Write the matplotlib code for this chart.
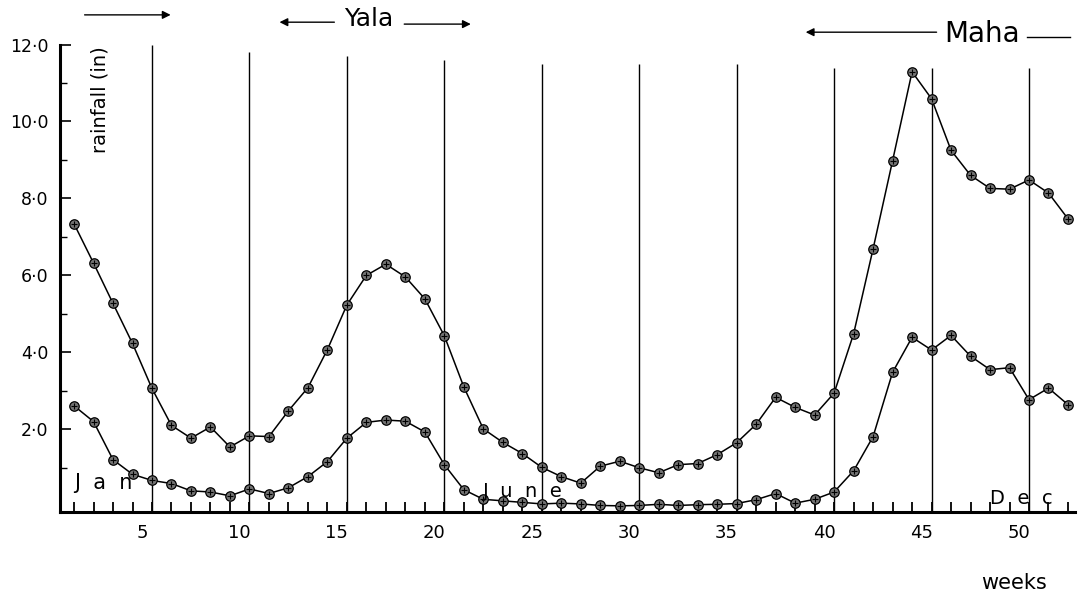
import matplotlib.pyplot as plt
import matplotlib.transforms as mtransforms

# weekly rainfall (inches)
weeks = list(range(1, 53))
rain_upper = [7.34, 6.32, 5.27, 4.23, 3.06, 2.10, 1.77, 2.06, 1.54, 1.83,
              1.81, 2.48, 3.08, 4.07, 5.23, 6.00, 6.29, 5.96, 5.39, 4.43,
              3.10, 2.01, 1.66, 1.37, 1.01, 0.77, 0.60, 1.04, 1.17, 1.00,
              0.87, 1.08, 1.11, 1.34, 1.65, 2.13, 2.83, 2.57, 2.37, 2.94,
              4.48, 6.69, 8.98, 11.29, 10.59, 9.25, 8.60, 8.26, 8.24, 8.48,
              8.14, 7.47]
rain_lower = [2.61, 2.20, 1.21, 0.83, 0.67, 0.59, 0.40, 0.37, 0.27, 0.45,
              0.33, 0.48, 0.77, 1.16, 1.77, 2.18, 2.24, 2.21, 1.93, 1.08,
              0.43, 0.18, 0.14, 0.10, 0.06, 0.08, 0.06, 0.02, 0.01, 0.02,
              0.05, 0.02, 0.04, 0.05, 0.07, 0.17, 0.33, 0.08, 0.18, 0.37,
              0.92, 1.81, 3.48, 4.39, 4.06, 4.44, 3.90, 3.55, 3.60, 2.77,
              3.07, 2.64]

divider_weeks = [5, 10, 15, 20, 25, 30, 35, 40, 45, 50]
divider_tops = [12.0, 11.8, 11.7, 11.6, 11.5, 11.5, 11.5, 11.4, 11.4, 11.4]
xtick_weeks = [5, 10, 15, 20, 25, 30, 35, 40, 45, 50]
ytick_vals = [2, 4, 6, 8, 10, 12]
ytick_labels = ['2·0', '4·0', '6·0', '8·0', '10·0', '12·0']

fig = plt.figure(figsize=(10.79, 5.99), dpi=100)
ax = fig.add_axes([60 / 1079, 87 / 599, 1015 / 1079, 467.5 / 599])
ax.set_xlim(0.28, 52.36)
ax.set_ylim(-0.15, 12.0)

for s in ['top', 'right']:
    ax.spines[s].set_visible(False)
ax.spines['left'].set_linewidth(2.2)
ax.spines['bottom'].set_linewidth(2.2)

# week dividers
ax.vlines(divider_weeks, -0.15, divider_tops, color='k', lw=1.0, zorder=1)

for vals in (rain_upper, rain_lower):
    ax.plot(weeks, vals, color='k', lw=1.1, marker='o', ms=6.8,
            mfc='0.45', mec='k', mew=0.9, zorder=3, clip_on=False)
    ax.plot(weeks, vals, ls='none', marker='+', ms=4.5, mec='k', mew=0.8,
            zorder=4, clip_on=False)

# ticks
ax.set_xticks(xtick_weeks)
ax.set_xticklabels([str(w) for w in xtick_weeks])
ax.set_xticks([w for w in weeks if w % 5 != 0], minor=True)
ax.tick_params(axis='x', which='both', direction='in', length=7, width=1.3,
               color='k', labelsize=13, pad=9)
shift = mtransforms.ScaledTranslation(-0.1, 0, fig.dpi_scale_trans)
for lab in ax.get_xticklabels():
    lab.set_transform(lab.get_transform() + shift)

ax.set_yticks(ytick_vals)
ax.set_yticklabels(ytick_labels)
ax.set_yticks([1, 3, 5, 7, 9, 11], minor=True)
ax.tick_params(axis='y', which='major', direction='in', length=8, width=1.2,
               labelsize=12.5, pad=8.5)
ax.tick_params(axis='y', which='minor', direction='in', length=5, width=1)

# labels inside the plot
ax.text(2.33, 11.95, 'rainfall (in)', rotation=90, ha='center', va='top',
        fontsize=14)
ax.text(1.0, 0.6, 'J  a  n', ha='left', va='center', fontsize=15)
ax.text(22.0, 0.38, 'J  u  n  e', ha='left', va='center', fontsize=14)
ax.text(48.0, 0.2, 'D  e  c', ha='left', va='center', fontsize=14)

# season arrows above the plot
arrow = dict(arrowstyle='-|>', lw=1.0, color='k', mutation_scale=12)
ax.annotate('', xy=(6.1, 12.77), xytext=(1.4, 12.77), arrowprops=arrow,
            annotation_clip=False)
ax.annotate('', xy=(11.4, 12.58), xytext=(14.5, 12.58), arrowprops=arrow,
            annotation_clip=False)
ax.text(16.1, 12.65, 'Yala', ha='center', va='center', fontsize=18,
        clip_on=False)
ax.annotate('', xy=(21.5, 12.53), xytext=(17.8, 12.53), arrowprops=arrow,
            annotation_clip=False)
ax.annotate('', xy=(38.4, 12.32), xytext=(45.4, 12.32), arrowprops=arrow,
            annotation_clip=False)
ax.text(47.6, 12.27, 'Maha', ha='center', va='center', fontsize=20,
        clip_on=False)
ax.plot([49.9, 52.1], [12.2, 12.2], color='k', lw=1.0, clip_on=False)

fig.text(1014 / 1079, 1 - 583 / 599, 'weeks', ha='center', va='center',
         fontsize=15)

fig.savefig('out.png', dpi=100)
